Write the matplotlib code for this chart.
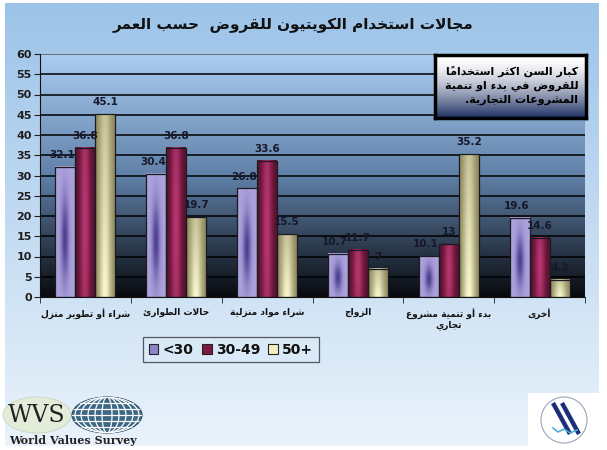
import unicodedata
import numpy as np
import matplotlib
matplotlib.use("Agg")
import matplotlib.pyplot as plt
from matplotlib.patches import Rectangle, Ellipse, Circle
from matplotlib.colors import to_rgb

# ---------------- data ----------------
categories = ["شراء أو تطوير منزل", "حالات الطوارئ", "شراء مواد منزلية",
              "الزواج", "بدء أو تنمية مشروع\nتجاري", "أخرى"]
series_names = ["<30", "30-49", "50+"]
under30 = [32.1, 30.4, 26.8, 10.7, 10.1, 19.6]
age30_49 = [36.8, 36.8, 33.6, 11.7, 13, 14.6]
age50plus = [45.1, 19.7, 15.5, 7, 35.2, 4.2]
title_text = "مجالات استخدام الكويتيون للقروض  حسب العمر"
note_text = "كبار السن اكثر استخداماً\nللقروض في بدء او تنمية\nالمشروعات التجارية."
yticks = list(range(0, 61, 5))

# ---------------- minimal Arabic shaping ----------------
FORMS = {}
for ch, base in [("ئ", 0xFE89), ("ب", 0xFE8F), ("ت", 0xFE95), ("ث", 0xFE99), ("ج", 0xFE9D),
                 ("ح", 0xFEA1), ("خ", 0xFEA5), ("س", 0xFEB1), ("ش", 0xFEB5), ("ص", 0xFEB9),
                 ("ض", 0xFEBD), ("ط", 0xFEC1), ("ظ", 0xFEC5), ("ع", 0xFEC9), ("غ", 0xFECD),
                 ("ف", 0xFED1), ("ق", 0xFED5), ("ك", 0xFED9), ("ل", 0xFEDD), ("م", 0xFEE1),
                 ("ن", 0xFEE5), ("ه", 0xFEE9), ("ي", 0xFEF1)]:
    FORMS[ch] = (base, base + 1, base + 2, base + 3)
for ch, base in [("آ", 0xFE81), ("أ", 0xFE83), ("ؤ", 0xFE85), ("إ", 0xFE87), ("ا", 0xFE8D),
                 ("ة", 0xFE93), ("د", 0xFEA9), ("ذ", 0xFEAB), ("ر", 0xFEAD), ("ز", 0xFEAF),
                 ("و", 0xFEED), ("ى", 0xFEEF)]:
    FORMS[ch] = (base, base + 1, None, None)
FORMS["ء"] = (0xFE80, None, None, None)
LIG = {"ا": (0xFEFB, 0xFEFC), "أ": (0xFEF7, 0xFEF8), "إ": (0xFEF9, 0xFEFA), "آ": (0xFEF5, 0xFEF6)}


def _shape_line(s):
    items = []
    i = 0
    while i < len(s):
        c = s[i]
        if unicodedata.combining(c) and items:
            items[-1][1] += c
            i += 1
            continue
        if c == "ل" and i + 1 < len(s) and s[i + 1] in LIG:
            items.append(["LA" + s[i + 1], ""])
            i += 2
            continue
        items.append([c, ""])
        i += 1

    def joins_next(t):
        if t.startswith("LA"):
            return False
        f = FORMS.get(t)
        return bool(f and f[2])

    def joins_prev(t):
        if t.startswith("LA"):
            return True
        f = FORMS.get(t)
        return bool(f and f[1])

    out = []
    for k, (tok, marks) in enumerate(items):
        prev = items[k - 1][0] if k > 0 else None
        nxt = items[k + 1][0] if k + 1 < len(items) else None
        cp = prev is not None and joins_next(prev) and joins_prev(tok)
        cn = nxt is not None and joins_next(tok) and joins_prev(nxt)
        if tok.startswith("LA"):
            g = chr(LIG[tok[2]][1 if cp else 0])
        elif tok in FORMS:
            f = FORMS[tok]
            if cp and cn:
                g = chr(f[3])
            elif cp:
                g = chr(f[1])
            elif cn:
                g = chr(f[2])
            else:
                g = chr(f[0])
        else:
            g = tok
        out.append(g + marks)
    return "".join(reversed(out))


def ar(text):
    return "\n".join(_shape_line(l) for l in text.split("\n"))


plt.rcParams["font.family"] = ["DejaVu Sans"]

W, H = 607, 450
fig = plt.figure(figsize=(W / 100, H / 100), dpi=100)
fig.patch.set_facecolor("white")

# ---------------- page background ----------------
bg = fig.add_axes([0, 0, 1, 1], zorder=-10)
bg.set_xlim(0, W)
bg.set_ylim(H, 0)
bg.axis("off")
top_c = np.array(to_rgb("#9cc3e8"))
bot_c = np.array(to_rgb("#eaf3fb"))
t = np.linspace(0, 1, 256)[:, None, None]
grad = top_c * (1 - t) + bot_c * t
grad = np.repeat(grad, 2, axis=1)
bg.imshow(grad, extent=[5, 599, 446, 3], aspect="auto", zorder=0)

# WVS logo
bg.add_patch(Ellipse((37, 415), 68, 36, facecolor="#e3ecd8", edgecolor="#c8d6c0", lw=0.6, zorder=2))
bg.text(37, 416, "WVS", fontsize=17, family="DejaVu Serif", color="#222222",
        ha="center", va="center", zorder=3)
globe = Ellipse((107, 415), 70, 36, facecolor="#3c6884", edgecolor="#2c4c62", lw=0.8, zorder=2)
bg.add_patch(globe)
for wdt in [10, 24, 38, 52, 64]:
    e = Ellipse((107, 415), wdt, 36, facecolor="none", edgecolor="white", lw=0.9, zorder=3)
    bg.add_patch(e)
    e.set_clip_path(globe)
for yy in [403, 409, 415, 421, 427]:
    ln, = bg.plot([70, 144], [yy, yy], color="white", lw=0.9, zorder=3)
    ln.set_clip_path(globe)
bg.text(73, 440, "World Values Survey", fontsize=8, family="DejaVu Serif", fontweight="bold",
        color="#222222", ha="center", va="center", zorder=3)

# right logo
bg.add_patch(Rectangle((528, 393), 72, 54, facecolor="white", edgecolor="none", zorder=2))
bg.add_patch(Circle((564, 420), 23, facecolor="white", edgecolor="#9aa4b8", lw=0.8, zorder=3))
bg.plot([553, 570], [403, 434], color="#1d2f7a", lw=3.2, zorder=4, solid_capstyle="butt")
bg.plot([562, 579], [403, 434], color="#1d2f7a", lw=3.2, zorder=4, solid_capstyle="butt")
bg.plot([553, 558, 564, 570, 577], [428, 432, 429, 433, 430], color="#4ab0d8", lw=1.2, zorder=5)

# ---------------- main axes ----------------
ax = fig.add_axes([40 / W, 1 - 297 / H, (585 - 40) / W, (297 - 54) / H])
ax.set_facecolor("none")
ax.set_xlim(-0.5, len(categories) - 0.5)
ax.set_ylim(0, 60)

# plot-area gradient
c0 = np.array(to_rgb("#abcdf0"))
c1 = np.array(to_rgb("#6080a8"))
c2 = np.array(to_rgb("#080a0e"))
tt = np.linspace(0, 1, 256)
cols = np.where(tt[:, None] < 0.5,
                c0 * (1 - tt[:, None] / 0.5) + c1 * (tt[:, None] / 0.5),
                c1 * (1 - (tt[:, None] - 0.5) / 0.5) + c2 * ((tt[:, None] - 0.5) / 0.5))
pgrad = np.repeat(cols[:, None, :], 2, axis=1)
ax.imshow(pgrad, extent=[0, 1, 0, 1], transform=ax.transAxes, aspect="auto", zorder=0)

for yv in yticks[1:]:
    ax.axhline(yv, color="#000000" if yv < 60 else "#555555", lw=1.1, zorder=1)


def bar_gradient(kind, nx=40, ny=80):
    u = np.linspace(0, 1, nx)[None, :]
    v = np.linspace(0, 1, ny)[:, None]  # 0 = top
    if kind == 0:
        edge = np.array(to_rgb("#aca2dc"))
        cen = np.array(to_rgb("#4c3e90"))
        w = np.exp(-((u - 0.5) / 0.2) ** 2 - ((v - 0.55) / 0.32) ** 2)
    elif kind == 1:
        edge = np.array(to_rgb("#58102e"))
        cen = np.array(to_rgb("#b83670"))
        w = np.exp(-((u - 0.5) / 0.26) ** 2) * (0.75 + 0.25 * np.exp(-((v - 0.5) / 0.5) ** 2))
    else:
        edge = np.array(to_rgb("#8a8458"))
        cen = np.array(to_rgb("#fcf9d0"))
        w = np.exp(-((u - 0.5) / 0.32) ** 2) * (0.55 + 0.45 * v)
    w = w[..., None]
    return edge * (1 - w) + cen * w


series = [under30, age30_49, age50plus]
legend_colors = ["#8f84cc", "#7c1a44", "#f4efc2"]
bw = 0.22
x = np.arange(len(categories))
for s, vals in enumerate(series):
    xs = x + (s - 1) * bw
    bars = ax.bar(xs, vals, width=bw, color="none", edgecolor="#1a1a22", lw=0.9, zorder=3,
                  label=series_names[s])
    img = bar_gradient(s)
    for b in bars:
        x0, h = b.get_x(), b.get_height()
        ax.imshow(img, extent=[x0, x0 + bw, 0, h], aspect="auto", zorder=2, interpolation="bilinear")
        ax.annotate(f"{h:g}", (x0 + bw / 2, h), xytext=(-2 if s == 0 else 0, 5),
                    textcoords="offset points", ha="center", va="bottom", fontsize=7.5,
                    fontweight="bold", color="#16182a", zorder=4)

ax.set_xlim(-0.5, len(categories) - 0.5)
ax.set_ylim(0, 60)
ax.set_yticks(yticks)
ax.set_yticklabels([str(v) for v in yticks], fontsize=8, fontweight="bold", color="#1e1e1e")
ax.set_xticks(x)
ax.set_xticklabels([ar(c) for c in categories], fontsize=6.5, fontweight="bold", color="#111111")
ax.set_xticks(np.arange(-0.5, len(categories)), minor=True)
ax.tick_params(axis="x", which="major", length=0, pad=8)
ax.tick_params(axis="x", which="minor", length=4, color="#222222")
ax.tick_params(axis="y", length=4, color="#222222", pad=2)
for sp in ["top", "right"]:
    ax.spines[sp].set_visible(False)
ax.spines["left"].set_color("#111111")
ax.spines["bottom"].set_color("#111111")
ax.spines["left"].set_zorder(5)
ax.spines["bottom"].set_zorder(5)

# legend
handles = [Rectangle((0, 0), 1, 1, facecolor=c, edgecolor="#222222", lw=0.8) for c in legend_colors]
leg = fig.legend(handles, series_names, loc="center", bbox_to_anchor=(231 / W, 1 - 349.5 / H),
                 ncol=3, prop={"size": 10, "weight": "bold"}, handlelength=0.7, handleheight=0.7,
                 handletextpad=0.3, columnspacing=0.6, borderpad=0.4, borderaxespad=0,
                 frameon=True, fancybox=False)
leg.get_frame().set_facecolor("#dbeaf7")
leg.get_frame().set_edgecolor("#333333")
leg.get_frame().set_linewidth(0.9)
for txt in leg.get_texts():
    txt.set_color("#111111")

# title
fig.text(293 / W, 1 - 25 / H, ar(title_text), fontsize=11, fontweight="bold", color="#111111",
         ha="center", va="center")

# note box
nb = fig.add_axes([435 / W, 1 - 118 / H, 151 / W, 63 / H], zorder=20)
ng_top = np.array(to_rgb("#ffffff"))
ng_bot = np.array(to_rgb("#1c2f62"))
tn = np.linspace(0, 1, 128)[:, None, None]
ngrad = np.repeat(ng_top * (1 - tn ** 1.6) + ng_bot * tn ** 1.6, 2, axis=1)
nb.imshow(ngrad, extent=[0, 1, 0, 1], aspect="auto")
nb.set_xlim(0, 1)
nb.set_ylim(0, 1)
nb.set_xticks([])
nb.set_yticks([])
for sp in nb.spines.values():
    sp.set_linewidth(2.5)
    sp.set_color("#000000")
nb.text(0.95, 0.52, ar(note_text), fontsize=8, fontweight="bold", color="#000000",
        ha="right", va="center", linespacing=1.45, multialignment="right")

fig.savefig("out.png", dpi=100, facecolor=fig.get_facecolor())
